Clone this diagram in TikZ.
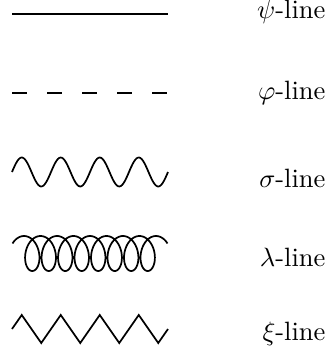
\documentclass[tikz,border=0pt]{standalone}
\usepackage{amsmath}
\usepackage{amssymb}
\usepackage{tikz}

\begin{document}
\begin{tikzpicture}[
    x=0.3774pt, y=-0.3774pt,
    line/.style={line width=0.65pt},
    phidash/.style={line, dash pattern=on 5.66pt off 7.55pt},
    linelabel/.style={anchor=base east, inner sep=0pt}
]
    \useasboundingbox (0,0) rectangle (330,356);

    % line ends
    \coordinate (psiA) at (12,14);   \coordinate (psiB) at (168,14);
    \coordinate (phiA) at (12,93);   \coordinate (phiB) at (168,93);

    \draw[line] (psiA) -- (psiB);
    \draw[phidash] (phiA) -- (phiB);
    % sigma: sine wave, 4 periods
    \draw[line] plot[domain=0:156, samples=120, smooth] (12+\x, {172-14.5*sin(\x/39*360)});
    % lambda: coil, 8 loops
    \draw[line] plot[domain=-55:2935, samples=480, smooth] ({24.03+(\x/360)*16.49+11*sin(\x)}, {253.5-17.5*cos(\x)});
    % xi: zigzag
    \draw[line, line join=miter] plot[samples at={0,...,16}] (12+9.75*\x, {329-14*sin(\x*90)});

    % labels
    \node[linelabel] (psilabel) at (326,19)  {$\psi$-line};
    \node[linelabel] (philabel) at (326,100) {$\varphi$-line};
    \node[linelabel] (siglabel) at (326,187) {$\sigma$-line};
    \node[linelabel] (lamlabel) at (326,266) {$\lambda$-line};
    \node[linelabel] (xilabel)  at (326,340) {$\xi$-line};
\end{tikzpicture}
\end{document}
